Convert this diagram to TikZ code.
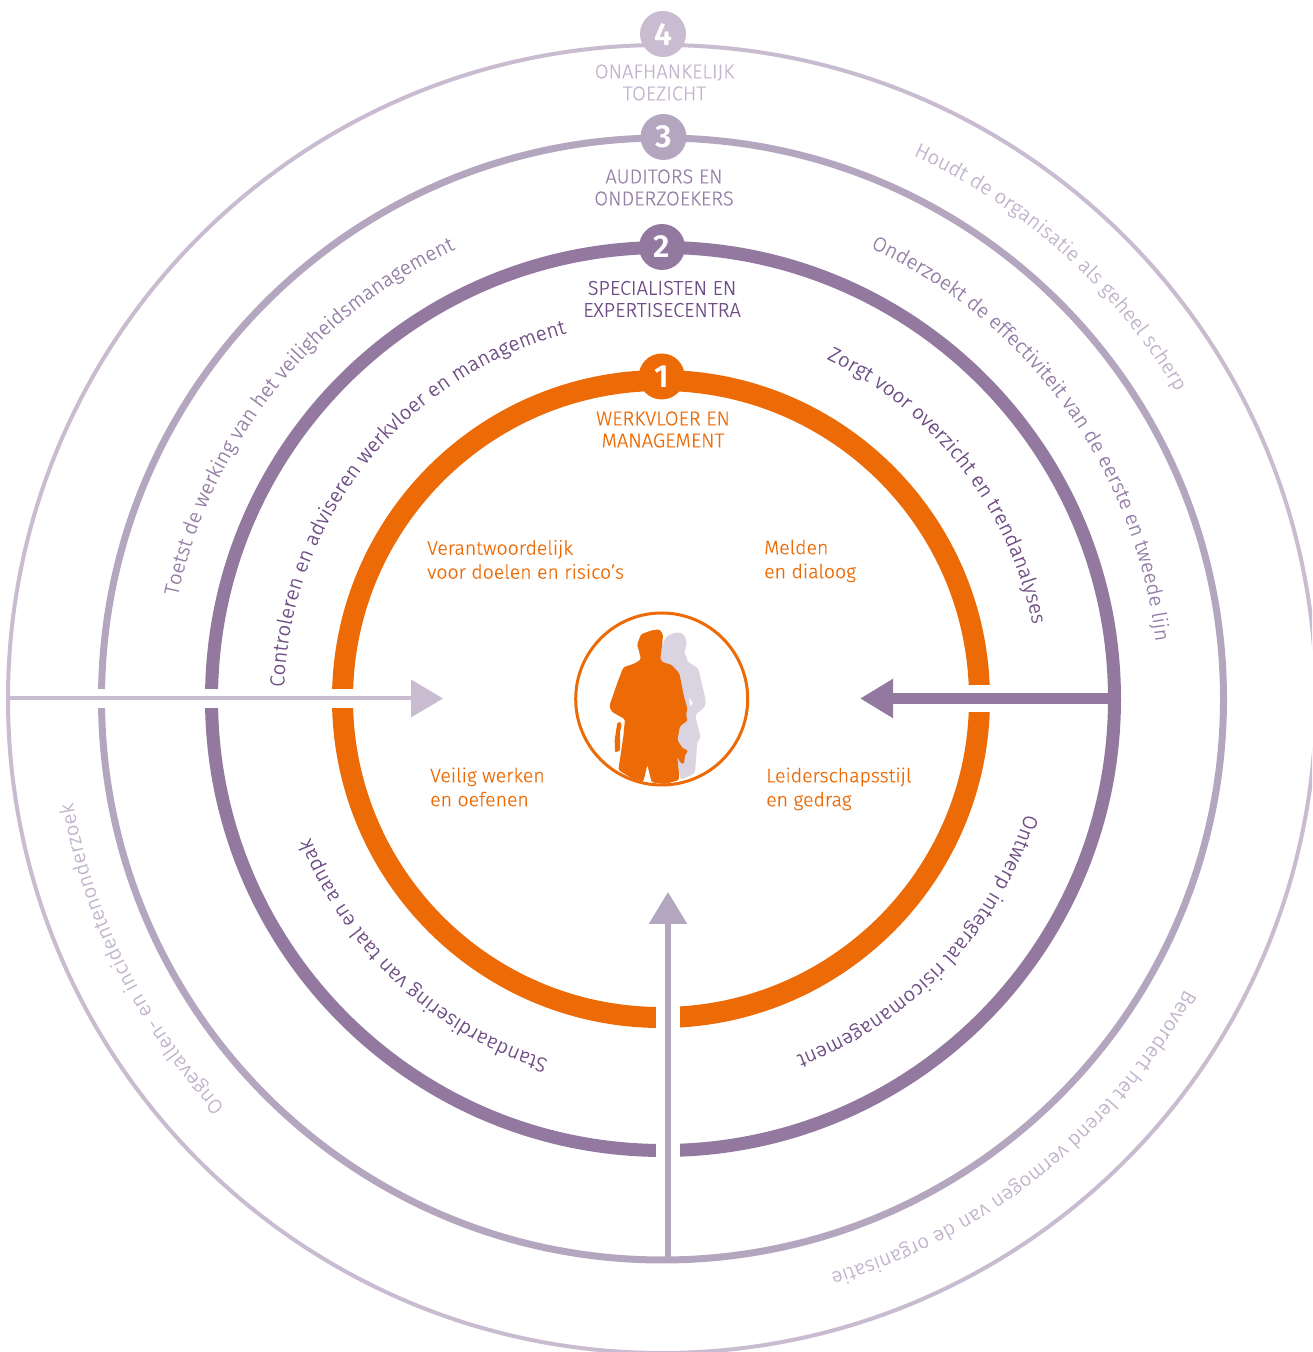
\documentclass[tikz,border=0pt]{standalone}
\usepackage{fontspec}
\setmainfont{Fira Sans Light}[FakeBold=0.25]
\newfontfamily\digitfont{Fira Sans}[BoldFont={Fira Sans SemiBold}]
\usetikzlibrary{arrows.meta,decorations.text}
\definecolor{cOrange}{HTML}{EC6B06}
\definecolor{cRingB}{HTML}{93799F}
\definecolor{cRingC}{HTML}{B5A6C0}
\definecolor{cRingD}{HTML}{C9BBD0}
\definecolor{cTextB}{HTML}{6F4F85}
\definecolor{cTextC}{HTML}{9680A8}
\definecolor{cTextD}{HTML}{C2B4CC}
\definecolor{cShadow}{HTML}{DAD3E0}
\newcommand\curvefont{\fontsize{20.5}{20.5}\selectfont}
\newcommand\arctext[5]{%
  \path[decorate,decoration={text along path,text align=fit to path,
    text={|\curvefont\color{#4}|#5}}]
    (ctr) ++(#2:#1) arc[start angle=#2,end angle=#3,radius=#1];}
\tikzset{
  ring/.style={draw=#1,fill=none},
  badge/.style={circle,fill=#1,minimum size=46pt,inner sep=0pt,text=white,font=\digitfont\bfseries\fontsize{32}{32}\selectfont},
  ttl/.style={align=center,inner sep=0pt,font=\fontsize{20}{22}\selectfont,text=#1},
  body/.style={align=left,anchor=west,inner sep=0pt,font=\fontsize{19.5}{24}\selectfont,text=cOrange},
  gap/.style={fill=white,draw=none}
}
\begin{document}
\begin{tikzpicture}[x=1pt,y=1pt]
\useasboundingbox (0,0) rectangle (1312,1352);
\clip (0,0) rectangle (1312,1352);
\coordinate (ctr) at (662,653);
% rings
\draw[ring=cRingD,line width=4pt] (ctr) circle[radius=654];
\draw[ring=cRingC,line width=7pt] (662.5,653) circle[radius=561];
\draw[ring=cRingB,line width=13pt] (663,653) circle[radius=451.5];
\draw[ring=cOrange,line width=21pt] (661,653) circle[radius=318.5];
% gaps
\fill[gap] (90,644) rectangle (360,663);
\fill[gap] (960,640) rectangle (1000,667);
\fill[gap] (656,310) rectangle (680,355);
\fill[gap] (656,185) rectangle (680,215);
% connectors
\coordinate (arrowAfrom) at (10,653.5);
\coordinate (arrowAto) at (443,653.5);
\coordinate (arrowBfrom) at (1110,653.5);
\coordinate (arrowBto) at (860,653.5);
\coordinate (arrowCfrom) at (668,94);
\coordinate (arrowCto) at (668,460);
\draw[cRingD,line width=4pt,-{Triangle[length=32pt,width=37pt]}] (arrowAfrom) -- (arrowAto);
\draw[cRingB,line width=11.5pt,-{Triangle[length=33pt,width=37pt]}] (arrowBfrom) -- (arrowBto);
\draw[cRingC,line width=6pt,-{Triangle[length=32pt,width=37pt]}] (arrowCfrom) -- (arrowCto);
% badges
\node[badge=cRingD] (b4) at (663,1318) {4};
\node[badge=cRingC] (b3) at (663.5,1215) {3};
\node[badge=cRingB] (b2) at (662,1105) {2};
\node[badge=cOrange] (b1) at (661.7,975.5) {1};
% titles
\node[ttl=cTextD] (t4) at (664.5,1269.5) {ONAFHANKELIJK\\TOEZICHT};
\node[ttl=cTextC] (t3) at (664,1164.5) {AUDITORS EN\\ONDERZOEKERS};
\node[ttl=cTextB] (t2) at (662,1053) {SPECIALISTEN EN\\EXPERTISECENTRA};
\node[ttl=cOrange] (t1) at (663,922.5) {WERKVLOER EN\\MANAGEMENT};
% body text
\node[body] (q1) at (427,792.5) {Verantwoordelijk\\voor doelen en risico’s};
\node[body] (q2) at (764,791) {Melden\\en dialoog};
\node[body] (q3) at (430,565) {Veilig werken\\en oefenen};
\node[body] (q4) at (766,563) {Leiderschapsstijl\\en gedrag};
% centre
\node[circle,draw=cOrange,line width=3pt,minimum size=172pt,inner sep=0pt] (hub) at (661.7,653) {};
\begin{scope}[shift={(560,752)},x=0.33333pt,y=-0.33333pt]
\fill[cShadow,rounded corners=3pt] (300,180)--(305,140)--(318,110)--(345,97)--(370,100)--(381,125)--(372,165)--(384,172)--(378,182)--(415,205)--(437,300)--(436,320)--(405,345)--(423,415)--(412,422)--(405,520)--(362,540)--(340,400)--(300,200)--cycle;
\fill[white] (388,292)--(398,310)--(390,320)--cycle;
\fill[cOrange,rounded corners=1.5pt] (231,134)--(243,103)--(275,91)--(298,88)--(309,103)--(307,130)--(301,175)--(305,185)--(335,195)--(358,220)--(372,290)--(382,325)--(378,345)--(383,362)--(360,378)--(352,420)--(368,445)--(385,452)--(375,465)--(372,492)--(362,490)--(352,470)--(358,530)--(355,541)--(315,552)--(275,547)--(262,495)--(250,545)--(215,535)--(175,510)--(190,410)--(195,358)--(155,335)--(148,318)--(175,240)--(190,202)--(225,190)--(243,178)--(236,150)--cycle;
\fill[cOrange,rounded corners=1pt] (172,368)--(182,366)--(185,378)--(180,395)--(180,452)--(165,457)--(164,420)--cycle;
\end{scope}
% curved labels
\arctext{599}{65.2}{30.9}{cTextD}{Houdt de organisatie als geheel scherp}
\arctext{497}{65.2}{7.3}{cTextC}{Onderzoekt de effectiviteit van de eerste en tweede lijn}
\arctext{378}{64.2}{11.4}{cTextB}{Zorgt voor overzicht  en trendanalyses}
\arctext{378}{178.2}{104.7}{cTextB}{Controleren en adviseren werkvloer en management}
\arctext{495}{168}{114.7}{cTextC}{Toetst de werking van het veiligheidsmanagement}
\arctext{381}{-17.5}{-69.3}{cTextB}{Ontwerp integraal risicomanagement}
\arctext{378}{-107.5}{-158}{cTextB}{Standaardisering van taal en aanpak}
\arctext{598}{-29}{-73.6}{cTextD}{Bevordert het lerend vermogen van de organisatie}
\arctext{598}{-137}{-170}{cTextD}{Ongevallen- en incidentenonderzoek}
\end{tikzpicture}
\end{document}
